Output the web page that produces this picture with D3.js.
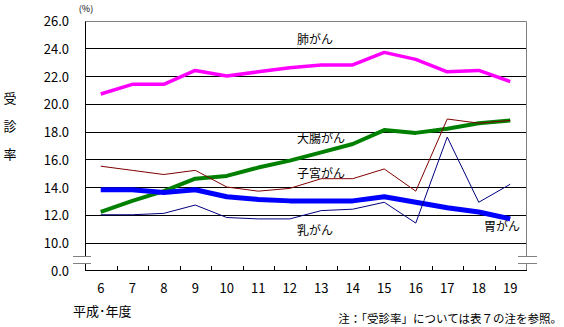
<!DOCTYPE html>
<html><head><meta charset="utf-8">
<script src="https://cdn.jsdelivr.net/npm/d3@7"></script>
<style>
html,body{margin:0;padding:0;background:#fff;}
svg{display:block;font-family:"Noto Sans CJK JP","Noto Sans",sans-serif;}
</style></head>
<body>
<svg id="c" width="564" height="327"></svg>
<script>
const years = [6,7,8,9,10,11,12,13,14,15,16,17,18,19];
const lung       = [20.7,21.4,21.4,22.4,22.0,22.3,22.6,22.8,22.8,23.7,23.2,22.3,22.4,21.6];
const colorectal = [12.2,13.0,13.7,14.6,14.8,15.4,15.9,16.5,17.1,18.1,17.9,18.2,18.6,18.8];
const uterine    = [15.5,15.2,14.9,15.2,14.0,13.7,13.9,14.6,14.6,15.3,13.7,18.9,18.6,18.8];
const stomach    = [13.8,13.8,13.6,13.8,13.3,13.1,13.0,13.0,13.0,13.3,12.9,12.5,12.2,11.7];
const breast     = [12.0,12.0,12.1,12.7,11.8,11.7,11.7,12.3,12.4,12.9,11.4,17.6,12.9,14.2];
const yTicks = [0,10,12,14,16,18,20,22,24,26];
const seriesNames = ["肺がん","大腸がん","子宮がん","胃がん","乳がん"];

const svg = d3.select("#c");
const L = 85, R = 526, T = 20.5, B = 270;
const x = d3.scaleBand().domain(years).range([L, R]);
const y = d3.scaleLinear().domain([0,10,26]).range([B, 242.5, T]);
const cx = d => x(d) + x.bandwidth()/2;
const py = v => Math.round(y(v)) + 0.5;

// gridlines
svg.append("g").selectAll("line").data(yTicks.filter(v => v >= 10 && v < 26)).join("line")
  .attr("x1", L).attr("x2", R).attr("y1", d => py(d)).attr("y2", d => py(d))
  .attr("stroke", "#000").attr("stroke-width", 1);
// top & right frame (grey)
svg.append("line").attr("x1", L).attr("x2", R + 0.5).attr("y1", py(26)).attr("y2", py(26)).attr("stroke", "#808080");
svg.append("line").attr("x1", R + 0.5).attr("x2", R + 0.5).attr("y1", py(26)).attr("y2", 256).attr("stroke", "#808080");
svg.append("line").attr("x1", R + 0.5).attr("x2", R + 0.5).attr("y1", 263.5).attr("y2", B).attr("stroke", "#808080");
// left axis
svg.append("line").attr("x1", L + 0.5).attr("x2", L + 0.5).attr("y1", py(26)).attr("y2", 256).attr("stroke", "#000");
svg.append("line").attr("x1", L + 0.5).attr("x2", L + 0.5).attr("y1", 263.5).attr("y2", B + 0.5).attr("stroke", "#000");
// break marks
[[73, 91], [518, 537]].forEach(([a, b]) => {
  [256.5, 263.5].forEach(yy => svg.append("line").attr("x1", a).attr("x2", b).attr("y1", yy).attr("y2", yy).attr("stroke", "#808080"));
});
// x axis line
svg.append("line").attr("x1", L).attr("x2", R + 1).attr("y1", B + 0.5).attr("y2", B + 0.5).attr("stroke", "#000");
// tick marks (band boundaries, pointing up)
svg.append("g").selectAll("line").data(years.slice(1)).join("line")
  .attr("x1", d => Math.round(x(d)) + 0.5).attr("x2", d => Math.round(x(d)) + 0.5)
  .attr("y1", B - 4).attr("y2", B).attr("stroke", "#000");

// y tick labels
svg.append("g").selectAll("text").data(yTicks).join("text")
  .attr("x", 69).attr("y", d => y(d)).attr("text-anchor", "end").attr("dominant-baseline", "central")
  .attr("font-size", 13).attr("fill", "#000").text(d => d.toFixed(1));
// x tick labels
svg.append("g").selectAll("text").data(years).join("text")
  .attr("x", d => cx(d)).attr("y", 287).attr("text-anchor", "middle").attr("dominant-baseline", "central")
  .attr("font-size", 13).attr("fill", "#000").text(d => d);

// axis titles
svg.append("text").attr("x", 86).attr("y", 8).attr("text-anchor", "middle").attr("dominant-baseline", "central")
  .attr("font-size", 9).text("(%)");
["受","診","率"].forEach((ch, i) => svg.append("text").attr("x", 10).attr("y", 97 + i * 28)
  .attr("text-anchor", "middle").attr("dominant-baseline", "central").attr("font-size", 13).text(ch));
svg.append("text").attr("x", 73).attr("y", 310).attr("dominant-baseline", "central").attr("font-size", 13).text("平成･年度");
svg.append("text").attr("x", 562).attr("y", 318).attr("text-anchor", "end").attr("dominant-baseline", "central")
  .attr("font-size", 11.5).text("注：「受診率」については表７の注を参照。");

// lines
const line = d3.line().x((d, i) => cx(years[i])).y(d => y(d));
const series = [
  {v: lung, c: "#FF00FF", w: 3.5},
  {v: colorectal, c: "#008000", w: 4},
  {v: stomach, c: "#0000FF", w: 5},
  {v: uterine, c: "#800000", w: 1},
  {v: breast, c: "#000080", w: 1}
];
series.forEach(s => svg.append("path").attr("d", line(s.v)).attr("fill", "none")
  .attr("stroke", s.c).attr("stroke-width", s.w).attr("stroke-linejoin", "round"));

// series labels
const labels = [
  {t: seriesNames[0], x: 315, y: 38, a: "middle"},
  {t: seriesNames[1], x: 297, y: 137, a: "start"},
  {t: seriesNames[2], x: 297, y: 172, a: "start"},
  {t: seriesNames[3], x: 484, y: 225, a: "start"},
  {t: seriesNames[4], x: 297, y: 229, a: "start"}
];
svg.append("g").selectAll("text").data(labels).join("text")
  .attr("x", d => d.x).attr("y", d => d.y).attr("text-anchor", d => d.a).attr("dominant-baseline", "central")
  .attr("font-size", 12).attr("fill", "#000").text(d => d.t);
</script>
</body></html>
